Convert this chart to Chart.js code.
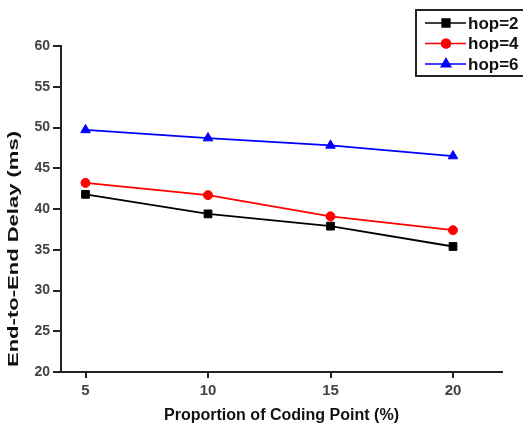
<!DOCTYPE html>
<html>
<head>
<meta charset="utf-8">
<script src="https://cdn.jsdelivr.net/npm/chart.js@4.4.0/dist/chart.umd.min.js"></script>
<style>
  html, body { margin: 0; padding: 0; background: #fff; }
  canvas { display: block; }
</style>
</head>
<body>
<canvas id="delayChart" width="523" height="428"></canvas>
<script>
// values
const codingPoints = [5, 10, 15, 20];
const hop2 = [41.8, 39.4, 37.9, 35.4];
const hop4 = [43.2, 41.7, 39.1, 37.4];
const hop6 = [49.7, 48.7, 47.8, 46.5];
const seriesNames = ['hop=2', 'hop=4', 'hop=6'];
const xTitle = 'Proportion of Coding Point (%)';
const yTitle = 'End-to-End Delay (ms)';

const font = '"Liberation Sans", Arial, sans-serif';

function toPoints(values) {
  return codingPoints.map((x, i) => ({ x: x, y: values[i] }));
}

// axis titles drawn by hand so they can be stretched like the original
const axisTitles = {
  id: 'axisTitles',
  afterDraw(chart) {
    const { ctx, chartArea } = chart;
    ctx.save();
    ctx.fillStyle = '#111';
    ctx.font = 'bold 16px ' + font;
    ctx.textAlign = 'center';
    ctx.textBaseline = 'middle';

    let w = ctx.measureText(xTitle).width;
    ctx.save();
    ctx.translate((chartArea.left + chartArea.right) / 2, 416);
    ctx.scale(235 / w, 1);
    ctx.fillText(xTitle, 0, 0);
    ctx.restore();

    ctx.font = 'bold 15px ' + font;
    w = ctx.measureText(yTitle).width;
    ctx.translate(14, 249);
    ctx.rotate(-Math.PI / 2);
    ctx.scale(236 / w, 1);
    ctx.fillText(yTitle, 0, 0);
    ctx.restore();
  }
};

// boxed legend in the top right corner
const boxLegend = {
  id: 'boxLegend',
  afterDraw(chart) {
    const { ctx } = chart;
    ctx.save();
    ctx.strokeStyle = '#222';
    ctx.lineWidth = 2;
    ctx.strokeRect(416, 10, 130, 66);
    ctx.font = 'bold 17px ' + font;
    ctx.textBaseline = 'middle';
    ctx.textAlign = 'left';
    chart.data.datasets.forEach((ds, i) => {
      const y = 23 + i * 20.5;
      ctx.strokeStyle = ds.borderColor;
      ctx.lineWidth = 1.5;
      ctx.beginPath();
      ctx.moveTo(425, y);
      ctx.lineTo(466, y);
      ctx.stroke();
      ctx.fillStyle = ds.backgroundColor;
      Chart.helpers.drawPoint(ctx, { pointStyle: ds.pointStyle, radius: ds.pointRadius, borderWidth: 1 }, 446, y);
      ctx.fillStyle = '#111';
      ctx.fillText(ds.label, 468, y + 1);
    });
    ctx.restore();
  }
};

const ctx = document.getElementById('delayChart').getContext('2d');

const chart = new Chart(ctx, {
  type: 'line',
  data: {
    datasets: [
      { label: seriesNames[0], data: toPoints(hop2), borderColor: '#000', backgroundColor: '#000', pointStyle: 'rect', pointRadius: 5.5 },
      { label: seriesNames[1], data: toPoints(hop4), borderColor: '#ff0000', backgroundColor: '#ff0000', pointStyle: 'circle', pointRadius: 4.5 },
      { label: seriesNames[2], data: toPoints(hop6), borderColor: '#0000ff', backgroundColor: '#0000ff', pointStyle: 'triangle', pointRadius: 5.5 },
    ],
  },
  options: {
    responsive: false,
    animation: false,
    elements: { line: { tension: 0, borderWidth: 1.8 }, point: { borderWidth: 1 } },
    layout: { padding: { top: 46, right: 21, left: 0, bottom: 0 } },
    plugins: { legend: { display: false }, tooltip: { enabled: false } },
    scales: {
      x: {
        type: 'linear',
        min: 4,
        max: 22,
        afterBuildTicks: (scale) => { scale.ticks = codingPoints.map((v) => ({ value: v })); },
        afterFit: (scale) => { scale.height = 56; },
        grid: { drawOnChartArea: false, drawTicks: true, tickLength: 6, color: '#222', lineWidth: 2 },
        border: { display: true, color: '#222', width: 2 },
        ticks: { color: '#444', font: { family: font, size: 15, weight: 'bold' }, padding: 4, maxRotation: 0 },
      },
      y: {
        min: 20,
        max: 60,
        ticks: { stepSize: 5, color: '#444', font: { family: font, size: 14, weight: 'bold' }, padding: 3 },
        afterFit: (scale) => { scale.width = 61; },
        grid: { drawOnChartArea: false, drawTicks: true, tickLength: 8, color: '#222', lineWidth: 2 },
        border: { display: true, color: '#222', width: 2 },
      },
    },
  },
  plugins: [axisTitles, boxLegend],
});
</script>
</body>
</html>
